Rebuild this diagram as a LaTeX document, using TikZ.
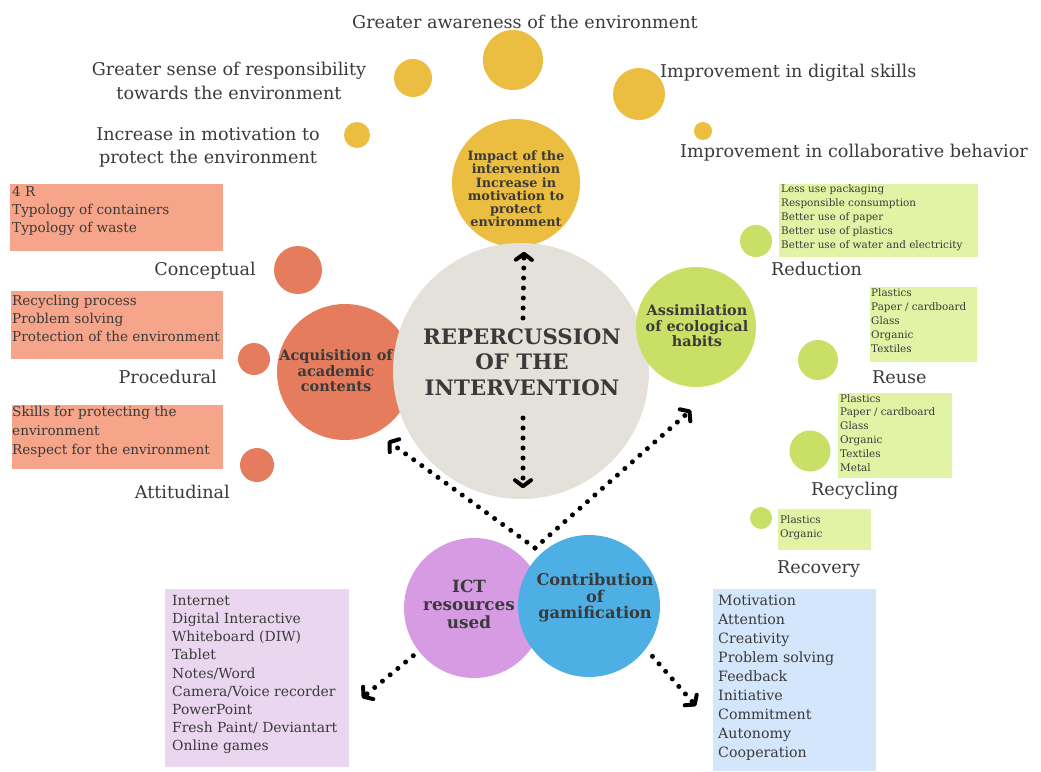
\documentclass[tikz,border=0pt]{standalone}
\usepackage{fontspec}
\setmainfont{DejaVu Serif}
\usepackage{xcolor}
\usepackage{tikz}
\usetikzlibrary{arrows.meta,positioning,calc}
\definecolor{inktext}{RGB}{58,58,58}
\definecolor{impactyellow}{RGB}{235,189,64}
\definecolor{contentorange}{RGB}{229,124,94}
\definecolor{contentbox}{RGB}{246,165,138}
\definecolor{habitgreen}{RGB}{202,223,102}
\definecolor{habitbox}{RGB}{226,243,166}
\definecolor{corestone}{RGB}{227,225,217}
\definecolor{ictviolet}{RGB}{215,155,228}
\definecolor{ictbox}{RGB}{234,215,239}
\definecolor{gameblue}{RGB}{78,175,228}
\definecolor{gamebox}{RGB}{212,230,252}

\tikzset{
  bubble/.style={circle, inner sep=0pt, draw=none},
  infobox/.style={rectangle, inner sep=0pt, anchor=north west},
  boxtext/.style={anchor=north west, inner sep=0pt, align=left, text=inktext},
  sidelabel/.style={inner sep=0pt, text=inktext, font=\fontsize{17.6}{23.5}\selectfont},
  bubbletext/.style={align=center, text=inktext, inner sep=0pt},
  dotarrow/.style={line width=5pt, line cap=round, dash pattern=on 0pt off 10pt,
    -{Straight Barb[length=6pt, width=16pt, line width=4pt, round]}},
}

\begin{document}
\begin{tikzpicture}[x=1pt, y=-1pt]
\useasboundingbox (0,0) rectangle (1041,771);

% outcomes of the intervention
\node[bubble, fill=impactyellow, minimum size=60pt] (aware) at (513,60) {};
\node[bubble, fill=impactyellow, minimum size=38pt] (resp) at (413,78) {};
\node[bubble, fill=impactyellow, minimum size=26pt] (motiv) at (357,135) {};
\node[bubble, fill=impactyellow, minimum size=52pt] (digital) at (639,94) {};
\node[bubble, fill=impactyellow, minimum size=18pt] (collab) at (703,131) {};
\node[bubble, fill=impactyellow, minimum size=128pt] (impact) at (516,183) {};
\node[bubbletext, font=\bfseries\fontsize{12.8}{13.2}\selectfont] (impact-t) at (516,189)
  {Impact of the\\intervention\\Increase in\\motivation to\\protect\\environment};

\node[sidelabel, anchor=base west] (aware-l) at (352,28) {Greater awareness of the environment};
\node[sidelabel, align=center, anchor=north] (resp-l) at (229,62) {Greater sense of responsibility\\towards the environment};
\node[sidelabel, align=center, anchor=north] (motiv-l) at (208,127) {Increase in motivation to\\protect the environment};
\node[sidelabel, anchor=base west] (digital-l) at (660,77) {Improvement in digital skills};
\node[sidelabel, anchor=base west] (collab-l) at (680,157) {Improvement in collaborative behavior};

% academic contents
\node[bubble, fill=contentorange, minimum size=136pt] (acquis) at (345,372) {};
\node[bubble, fill=contentorange, minimum size=48pt] (concept) at (298,270) {};
\node[bubble, fill=contentorange, minimum size=32pt] (proced) at (254,359) {};
\node[bubble, fill=contentorange, minimum size=34pt] (attit) at (257,465) {};

\node[infobox, fill=contentbox, minimum width=213pt, minimum height=67pt] (concept-box) at (10,184) {};
\node[boxtext, font=\fontsize{13.6}{18}\selectfont] (concept-list) at (12,186)
  {4 R\\Typology of containers\\Typology of waste};
\node[infobox, fill=contentbox, minimum width=212pt, minimum height=68pt] (proced-box) at (11,291) {};
\node[boxtext, font=\fontsize{13.6}{18}\selectfont] (proced-list) at (12,295)
  {Recycling process\\Problem solving\\Protection of the environment};
\node[infobox, fill=contentbox, minimum width=211pt, minimum height=64pt] (attit-box) at (12,405) {};
\node[boxtext, font=\fontsize{13.6}{19}\selectfont] (attit-list) at (12,406)
  {Skills for protecting the\\environment\\Respect for the environment};

\node[sidelabel, anchor=base east] (concept-l) at (256,275) {Conceptual};
\node[sidelabel, anchor=base east] (proced-l) at (217,383) {Procedural};
\node[sidelabel, anchor=base east] (attit-l) at (230,498) {Attitudinal};

% core
\node[bubble, fill=corestone, minimum size=256pt] (core) at (521,371) {};
\node[bubbletext, font=\bfseries\fontsize{14.5}{15.5}\selectfont] (acquis-t) at (336,371)
  {Acquisition of\\academic\\contents};
\node[bubbletext, font=\bfseries\fontsize{21.3}{25.5}\selectfont] (core-t) at (522,362)
  {REPERCUSSION\\OF THE\\INTERVENTION};

% ecological habits
\node[bubble, fill=habitgreen, minimum size=120pt] (habits) at (696,327) {};
\node[bubbletext, font=\bfseries\fontsize{14.4}{15.5}\selectfont] (habits-t) at (697,326)
  {Assimilation\\of ecological\\habits};
\node[bubble, fill=habitgreen, minimum size=32pt] (reduce) at (756,241) {};
\node[bubble, fill=habitgreen, minimum size=40pt] (reuse) at (818,360) {};
\node[bubble, fill=habitgreen, minimum size=41pt] (recyc) at (810,451) {};
\node[bubble, fill=habitgreen, minimum size=22pt] (recov) at (761,518) {};

\node[infobox, fill=habitbox, minimum width=199pt, minimum height=73pt] (reduce-box) at (779,184) {};
\node[boxtext, font=\fontsize{10.4}{14}\selectfont] (reduce-list) at (781,184)
  {Less use packaging\\Responsible consumption\\Better use of paper\\Better use of plastics\\Better use of water and electricity};
\node[infobox, fill=habitbox, minimum width=107pt, minimum height=75pt] (reuse-box) at (870,287) {};
\node[boxtext, font=\fontsize{10.4}{14.2}\selectfont] (reuse-list) at (871,288)
  {Plastics\\Paper / cardboard\\Glass\\Organic\\Textiles};
\node[infobox, fill=habitbox, minimum width=114pt, minimum height=85pt] (recyc-box) at (838,393) {};
\node[boxtext, font=\fontsize{10.4}{13.8}\selectfont] (recyc-list) at (840,394)
  {Plastics\\Paper / cardboard\\Glass\\Organic\\Textiles\\Metal};
\node[infobox, fill=habitbox, minimum width=93pt, minimum height=41pt] (recov-box) at (778,509) {};
\node[boxtext, font=\fontsize{10.4}{14.5}\selectfont] (recov-list) at (780,515)
  {Plastics\\Organic};

\node[sidelabel, anchor=base west] (reduce-l) at (771,275) {Reduction};
\node[sidelabel, anchor=base west] (reuse-l) at (872,383) {Reuse};
\node[sidelabel, anchor=base west] (recyc-l) at (811,495) {Recycling};
\node[sidelabel, anchor=base west] (recov-l) at (777,573) {Recovery};

% resources and gamification
\node[bubble, fill=ictviolet, minimum size=140pt] (ict) at (474,608) {};
\node[bubble, fill=gameblue, minimum size=142pt] (gamif) at (589,606) {};
\node[bubbletext, font=\bfseries\fontsize{16.8}{18}\selectfont] (ict-t) at (469,604)
  {ICT\\resources\\used};
\node[bubbletext, font=\bfseries\fontsize{16.2}{16.5}\selectfont] (gamif-t) at (595,598)
  {Contribution\\of\\gamification};

\node[infobox, fill=ictbox, minimum width=184pt, minimum height=178pt] (ict-box) at (165,589) {};
\node[boxtext, font=\fontsize{13.9}{18.2}\selectfont] (ict-list) at (172,595)
  {Internet\\Digital Interactive\\Whiteboard (DIW)\\Tablet\\Notes/Word\\Camera/Voice recorder\\PowerPoint\\Fresh Paint/ Deviantart\\Online games};
\node[infobox, fill=gamebox, minimum width=163pt, minimum height=182pt] (gamif-box) at (713,589) {};
\node[boxtext, font=\fontsize{14.2}{19}\selectfont] (gamif-list) at (718,595)
  {Motivation\\Attention\\Creativity\\Problem solving\\Feedback\\Initiative\\Commitment\\Autonomy\\Cooperation};

% dotted links
\coordinate (hub) at (535,548);
\coordinate (to-acquis) at (388,441);
\coordinate (to-habits) at (691,410);
\coordinate (to-ictbox) at (362,698);
\coordinate (to-gamebox) at (696,706);
\draw[dotarrow] ($(core.center)+(2,-53)$) -- ($(core.north)+(3,9)$);
\draw[dotarrow] ($(core.center)+(2,47)$) -- ($(core.south)+(2,-11)$);
\draw[dotarrow] (hub) -- (to-acquis);
\draw[dotarrow] (hub) -- (to-habits);
\draw[dotarrow, shorten <=7pt] (ict.218) -- (to-ictbox);
\draw[dotarrow, shorten <=10pt] (gamif.-37) -- (to-gamebox);
\end{tikzpicture}
\end{document}
